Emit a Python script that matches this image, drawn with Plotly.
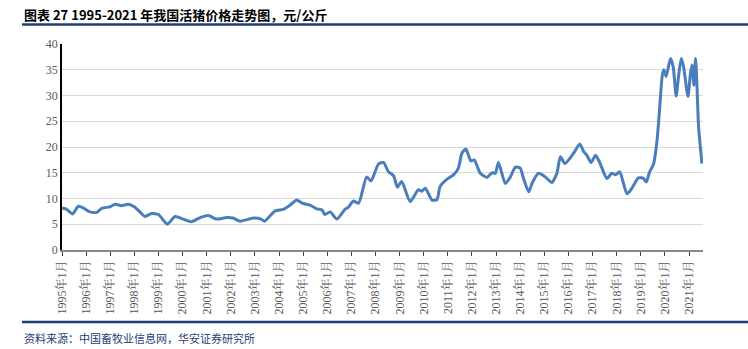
import plotly.graph_objects as go

dates = [
    "1995-01-01", "1995-03-01", "1995-06-10", "1995-09-05", "1995-11-15",
    "1996-02-25", "1996-06-10", "1996-08-25", "1997-01-01", "1997-03-15",
    "1997-06-20", "1997-10-01", "1998-01-10", "1998-03-25", "1998-06-10",
    "1998-09-20", "1999-01-01", "1999-03-15", "1999-05-15", "1999-09-10",
    "2000-01-10", "2000-05-15", "2000-09-25", "2001-01-25", "2001-06-01",
    "2001-11-01", "2002-02-05", "2002-05-20", "2002-12-10", "2003-03-20",
    "2003-05-25", "2003-08-15", "2003-11-05", "2004-03-05", "2004-06-15",
    "2004-09-25", "2004-12-15", "2005-04-15", "2005-07-25", "2005-10-10",
    "2005-11-25", "2006-02-15", "2006-05-25", "2006-09-25", "2006-11-15",
    "2007-02-01", "2007-04-20", "2007-08-20", "2007-10-25", "2008-02-15",
    "2008-05-01", "2008-07-15", "2008-10-01", "2008-11-28", "2009-02-01",
    "2009-06-10", "2009-10-10", "2009-12-01", "2010-01-25", "2010-05-05",
    "2010-07-20", "2010-09-05", "2010-12-15", "2011-03-28", "2011-06-10",
    "2011-08-01", "2011-10-01", "2011-12-15", "2012-02-05", "2012-05-05",
    "2012-08-15", "2012-11-01", "2012-12-20", "2013-02-05", "2013-05-20",
    "2013-08-05", "2013-10-20", "2014-01-01", "2014-02-20", "2014-05-10",
    "2014-07-01", "2014-10-05", "2015-01-15", "2015-04-25", "2015-07-10",
    "2015-09-01", "2015-11-10", "2016-03-20", "2016-06-20", "2016-08-20",
    "2016-10-05", "2016-12-10", "2017-02-15", "2017-04-25", "2017-08-05",
    "2017-10-20", "2017-12-15", "2018-02-15", "2018-06-05", "2018-08-20",
    "2018-11-25", "2019-02-10", "2019-03-25", "2019-05-10", "2019-07-15",
    "2019-09-05", "2019-10-15", "2019-11-20", "2019-12-15", "2020-01-20",
    "2020-03-25", "2020-05-05", "2020-06-20", "2020-07-25", "2020-09-05",
    "2020-10-10", "2020-12-15", "2021-01-22", "2021-02-15", "2021-03-15",
    "2021-04-10", "2021-05-01", "2021-05-25", "2021-07-15",
]
prices = [
    8.1, 8.0, 7.0, 8.5, 8.2,
    7.4, 7.3, 8.1, 8.4, 8.9,
    8.6, 8.9, 8.3, 7.4, 6.5,
    7.1, 6.9, 5.8, 5.0, 6.5,
    6.0, 5.5, 6.3, 6.7, 6.0,
    6.3, 6.2, 5.6, 6.2, 6.1,
    5.6, 6.6, 7.6, 7.9, 8.7,
    9.7, 9.1, 8.7, 8.0, 7.8,
    6.9, 7.4, 6.0, 7.9, 8.3,
    9.5, 9.1, 14.2, 13.4, 16.7,
    17.0, 15.2, 14.4, 12.2, 13.3,
    9.4, 11.7, 11.4, 12.0, 9.7,
    9.8, 12.3, 13.7, 14.6, 15.9,
    18.8, 19.6, 17.3, 17.5, 14.9,
    14.1, 15.0, 14.9, 17.0, 12.9,
    14.2, 16.1, 15.9, 13.9, 11.3,
    13.0, 14.9, 14.2, 13.1, 14.9,
    18.1, 16.8, 18.8, 20.6, 19.1,
    18.4, 17.0, 18.4, 16.8, 13.9,
    14.9, 14.6, 15.2, 10.9, 12.0,
    14.0, 13.9, 13.2, 15.0, 16.8,
    21.4, 27.8, 33.7, 35.0, 33.7,
    37.2, 35.6, 29.9, 33.7, 37.2,
    35.6, 29.8, 34.3, 35.9, 32.0,
    37.2, 31.7, 23.9, 16.8,
]
years = list(range(1995, 2022))
tick_vals = [f"{y}-01-01" for y in years]
tick_text = [f"{y}年1月" for y in years]
y_ticks = [0, 5, 10, 15, 20, 25, 30, 35, 40]

title_text = "图表 27 1995-2021 年我国活猪价格走势图，元/公斤"
source_text = "资料来源：中国畜牧业信息网，华安证券研究所"

navy = "#1F3C7A"

fig = go.Figure()
fig.add_trace(go.Scatter(
    x=dates, y=prices, mode="lines",
    line=dict(color="#4A7EBB", width=3, shape="spline", smoothing=0.6),
    hoverinfo="x+y", showlegend=False,
))

fig.update_layout(
    width=748, height=349,
    margin=dict(l=62, r=45, t=44, b=99),
    paper_bgcolor="white", plot_bgcolor="white",
    font=dict(family="Liberation Serif, Noto Sans CJK SC", size=12, color="#595959"),
    xaxis=dict(
        type="date",
        range=["1995-01-01", "2021-07-31"],
        tickmode="array", tickvals=tick_vals, ticktext=tick_text,
        tickangle=-90, ticks="outside", ticklen=4, tickcolor="#404040",
        showline=True, linecolor="#898989", linewidth=1.5,
        showgrid=False, zeroline=False,
        tickfont=dict(family="Liberation Serif, Noto Serif CJK SC, Noto Sans CJK SC", size=12, color="#595959"),
    ),
    yaxis=dict(
        range=[0, 40], tickmode="array", tickvals=y_ticks,
        showline=True, linecolor="#000000", linewidth=1.5,
        showgrid=True, gridcolor="#D9D9D9", gridwidth=1,
        zeroline=False, ticks="", ticklen=0,
        tickfont=dict(family="Liberation Serif", size=12, color="#595959"),
    ),
)

fig.add_shape(type="line", xref="paper", yref="paper",
              x0=-0.0624, x1=1.075, y0=1.095, y1=1.095,
              line=dict(color=navy, width=2.5))
fig.add_shape(type="line", xref="paper", yref="paper",
              x0=-0.0624, x1=1.075, y0=-0.3495, y1=-0.3495,
              line=dict(color=navy, width=2.5))

fig.add_annotation(xref="paper", yref="paper", x=-0.0624, y=1.141,
                   xanchor="left", yanchor="middle", showarrow=False,
                   text="<b>" + title_text + "</b>",
                   font=dict(family="Noto Sans CJK SC", size=13, color="#000000"))
fig.add_annotation(xref="paper", yref="paper", x=-0.0624, y=-0.427,
                   xanchor="left", yanchor="middle", showarrow=False,
                   text=source_text,
                   font=dict(family="Noto Sans CJK SC", size=11, color=navy))

fig.write_html("out.html")
